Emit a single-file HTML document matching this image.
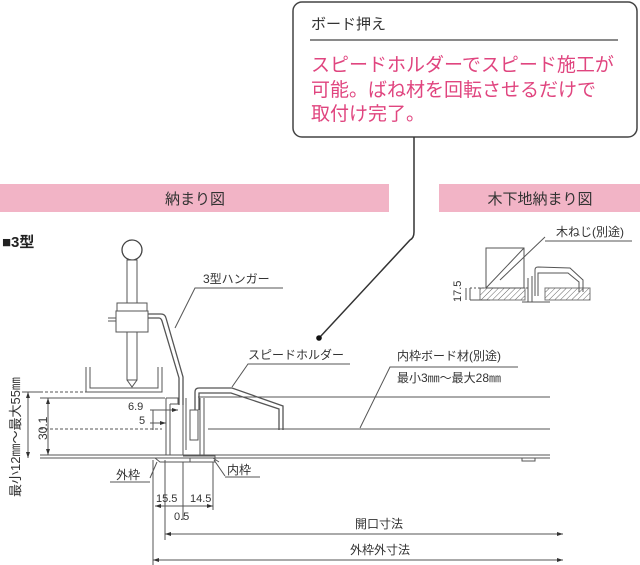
<!DOCTYPE html>
<html><head><meta charset="utf-8"><style>
html,body{margin:0;padding:0;background:#fff;}
svg{display:block;font-family:"Liberation Sans","Noto Sans CJK JP",sans-serif;}
</style></head><body>
<svg width="640" height="565" viewBox="0 0 640 565" xmlns="http://www.w3.org/2000/svg">
<defs>
<pattern id="h" width="4" height="4" patternUnits="userSpaceOnUse" patternTransform="rotate(45)">
<line x1="0" y1="0" x2="0" y2="4" stroke="#666" stroke-width="1"/></pattern>
<marker id="a" markerWidth="6" markerHeight="6" refX="6" refY="3" orient="auto"><path d="M0,1 L6,3 L0,5z" fill="#333"/></marker>
<marker id="as" markerWidth="6" markerHeight="6" refX="0" refY="3" orient="auto"><path d="M6,1 L0,3 L6,5z" fill="#333"/></marker>
</defs>
<rect x="293" y="2" width="344" height="135" rx="9" fill="#fff" stroke="#444" stroke-width="1.5"/>
<text x="311" y="29" font-size="15" fill="#333">ボード押え</text>
<line x1="310" y1="40" x2="618" y2="40" stroke="#444" stroke-width="1.2"/>
<g font-size="19" fill="#e0457f">
<text x="311" y="71">スピードホルダーでスピード施工が</text>
<text x="311" y="96">可能。ばね材を回転させるだけで</text>
<text x="311" y="120">取付け完了。</text>
</g>
<path d="M414,137 L414,232 Q414,238 410,240 L320,337" fill="none" stroke="#333" stroke-width="1.5"/>
<circle cx="319" cy="338" r="2.8" fill="#111"/>
<rect x="0" y="184" width="389" height="28" fill="#f2b4c6"/>
<text x="195" y="204" font-size="15" fill="#333" text-anchor="middle">納まり図</text>
<rect x="439" y="184" width="201" height="28" fill="#f2b4c6"/>
<text x="540" y="204" font-size="15" fill="#333" text-anchor="middle">木下地納まり図</text>
<text x="2" y="247" font-size="15" font-weight="bold" fill="#222">■3型</text>
<g stroke="#555" stroke-width="1" fill="none">
<rect x="480" y="288" width="45" height="12" fill="url(#h)" stroke="#777"/>
<rect x="545" y="288" width="45" height="12" fill="url(#h)" stroke="#777"/>
<rect x="486" y="248" width="38" height="40" fill="#fff"/>
<line x1="486" y1="288" x2="524" y2="248"/>
<line x1="470" y1="288" x2="530" y2="288" stroke-dasharray="2,2"/>
<line x1="470" y1="300" x2="490" y2="300"/>
<line x1="470" y1="288" x2="470" y2="300"/>
<path d="M528,278 L528,302 M532,276 L532,302 M522,302 L550,302"/>
<path d="M535,296 L535,270 Q535,267 538,267 L570,268 L583,280 L583,292"/>
<path d="M538,296 L538,273 L568,273 L579,282 L579,292"/>
<line x1="500" y1="280" x2="545" y2="237"/>
<line x1="545" y1="241" x2="632" y2="241"/>
</g>
<text x="556" y="236" font-size="12" fill="#333">木ねじ(別途)</text>
<text font-size="11" fill="#333" transform="translate(461,302) rotate(-90)">17.5</text>
<line x1="466" y1="288" x2="466" y2="300" stroke="#555"/>
<g stroke="#555" stroke-width="1" fill="none">
<line x1="40" y1="392" x2="162" y2="392" stroke-dasharray="3,2"/>
<line x1="40" y1="398" x2="165" y2="398"/>
<line x1="40" y1="429" x2="162" y2="429" stroke-dasharray="3,2"/>
<line x1="40" y1="455" x2="550" y2="455"/>
<line x1="40" y1="458" x2="550" y2="458"/>
<line x1="203" y1="397" x2="550" y2="397"/>
<line x1="208" y1="429" x2="550" y2="429"/>
<path d="M522,458 L522,461 L535,461 L535,458"/>
<path d="M86,367 L86,392 L162,392 L162,367"/>
<path d="M90,367 L90,388 L158,388 L158,367"/>
<circle cx="132" cy="250" r="10" fill="#fff" stroke="#444" stroke-width="1.3"/>
<rect x="127" y="260" width="10" height="120" fill="#fff"/>
<path d="M127,380 L132,387 L137,380"/>
<rect x="117" y="303" width="30" height="8" fill="#fff"/>
<rect x="116" y="311" width="32" height="21" fill="#fff"/>
<line x1="108" y1="318" x2="116" y2="318"/><line x1="108" y1="321" x2="116" y2="321"/>
<path d="M148,314 L161,314 Q165,314 166,318 L183,377 L183,405" stroke-width="1.3"/>
<path d="M148,318 L159,318 Q161,318 162,321 L179,378 L179,405" stroke-width="1.3"/>
<path d="M166,398 L166,455 M170,404 L170,455 M166,398 L178,398 L178,404 L170,404"/>
<path d="M183,398 L183,455 M186,398 L186,450"/>
<path d="M155,458 L160,462 L190,462 L190,458"/>
<rect x="190" y="410" width="8" height="30" fill="#fff"/>
<path d="M200,398 L200,455 M204,398 L204,455 M198,397 L206,397"/>
<path d="M183,456 L215,456 L215,462 L183,462"/>
<path d="M213,458 L219,462"/>
<path d="M195,410 L195,392 Q195,388 199,388 L232,388 L283,406 L283,430" stroke-width="1.3"/>
<path d="M199,410 L199,393 L231,393 L279,409 L279,430" stroke-width="1.3"/>
<line x1="28" y1="392" x2="28" y2="458" marker-start="url(#as)" marker-end="url(#a)"/>
<line x1="22" y1="392" x2="40" y2="392"/>
<line x1="48" y1="398" x2="48" y2="455" marker-start="url(#as)" marker-end="url(#a)"/>
<line x1="150" y1="410" x2="178" y2="410" marker-end="url(#a)"/>
<line x1="150" y1="423" x2="166" y2="423" marker-end="url(#a)"/>
<line x1="153" y1="410" x2="153" y2="430"/>
<line x1="153" y1="460" x2="153" y2="565"/>
<line x1="165" y1="460" x2="165" y2="540"/>
<line x1="183" y1="462" x2="183" y2="520"/>
<line x1="213" y1="462" x2="213" y2="510"/>
<line x1="155" y1="506" x2="213" y2="506" marker-start="url(#as)" marker-end="url(#a)"/>
<line x1="165" y1="534" x2="563" y2="534" marker-start="url(#as)" marker-end="url(#a)"/>
<line x1="153" y1="560" x2="563" y2="560" marker-start="url(#as)" marker-end="url(#a)"/>
<path d="M175,328 L195,288 L283,288"/>
<path d="M232,387 L248,364 L350,364"/>
<path d="M360,428 L390,367 L518,367"/>
<path d="M150,478 L157,462"/>
<path d="M225,476 L214,460"/>
<line x1="110" y1="482" x2="150" y2="482"/>
<line x1="225" y1="477" x2="260" y2="477"/>
</g>
<g font-size="12" fill="#333">
<text x="203" y="283">3型ハンガー</text>
<text x="248" y="359">スピードホルダー</text>
<text x="397" y="360">内枠ボード材(別途)</text>
<text x="397" y="382">最小3㎜～最大28㎜</text>
<text x="116" y="479">外枠</text>
<text x="227" y="474">内枠</text>
<text x="128" y="410" font-size="11">6.9</text>
<text x="139" y="424" font-size="11">5</text>
<text x="156" y="502" font-size="11">15.5</text>
<text x="190" y="502" font-size="11">14.5</text>
<text x="174" y="520" font-size="11">0.5</text>
<text x="355" y="528">開口寸法</text>
<text x="350" y="554">外枠外寸法</text>
<text transform="translate(47,440) rotate(-90)" font-size="12">30.1</text>
<text transform="translate(20,497) rotate(-90)" font-size="13">最小12㎜～最大55㎜</text>
</g>
</svg>
</body></html>
